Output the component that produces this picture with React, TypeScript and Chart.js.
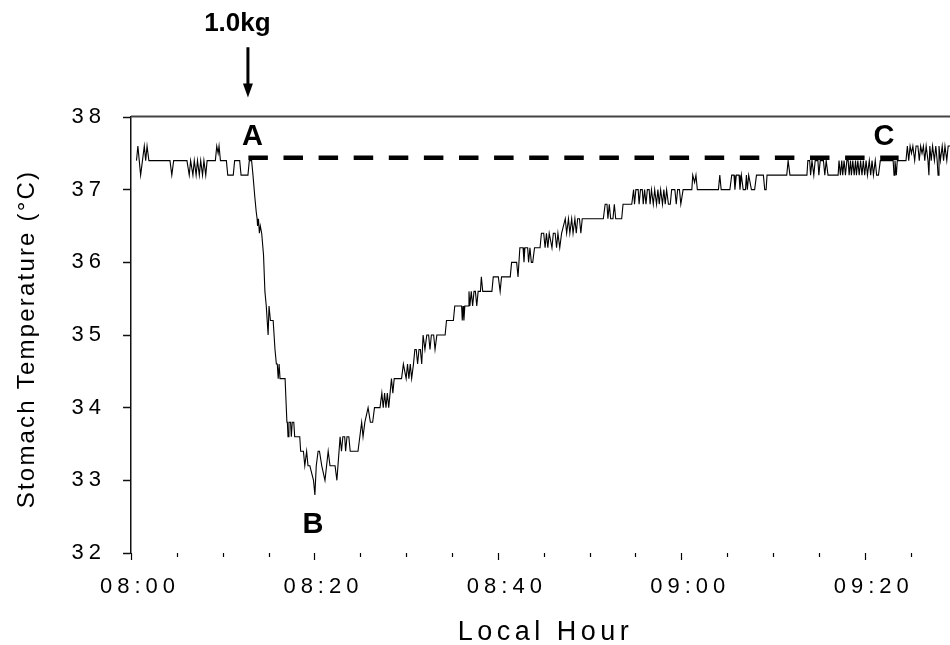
import React, { useEffect, useRef } from "react";
import { Chart, registerables } from "chart.js";

Chart.register(...registerables);

// Time in minutes after 08:00 and stomach temperature (°C)
const minutes = [
  0.6, 0.75, 0.9, 1.05, 1.25, 1.45, 1.6, 1.75, 1.95, 4.25, 4.45, 4.65, 6.1, 6.35, 6.5, 6.75, 6.9, 7.1, 7.25, 7.45,
  7.6, 7.8, 7.95, 8.15, 8.3, 9.2, 9.35, 9.5, 9.6, 9.75, 10.4, 10.55, 11.15, 11.3, 11.85, 12.0, 12.75, 12.9, 13.15,
  13.3, 13.5, 13.65, 13.75, 13.8, 13.9, 14.0, 14.1, 14.25, 14.45, 14.6, 14.75, 14.85, 14.95, 15.05, 15.2, 15.5,
  15.7, 15.85, 15.95, 16.05, 16.15, 16.25, 16.8, 17.0, 17.05, 17.12, 17.22, 17.4, 17.48, 17.58, 17.75, 17.85,
  18.0, 18.25, 18.4, 18.5, 18.8, 18.95, 19.15, 19.3, 19.5, 19.9, 20.05, 20.2, 20.4, 20.55, 20.8, 21.15, 21.5,
  21.7, 22.25, 22.45, 22.8, 22.95, 23.1, 23.3, 23.4, 23.55, 23.75, 23.9, 24.75, 24.95, 25.15, 25.3, 25.5, 25.85,
  26.1, 26.35, 26.55, 27.15, 27.35, 27.5, 27.65, 27.8, 27.95, 28.1, 28.25, 28.4, 28.55, 28.7, 29.35, 29.5, 29.7,
  30.0, 30.15, 30.3, 30.45, 30.6, 30.8, 30.95, 31.1, 31.25, 31.4, 31.55, 31.7, 31.85, 32.05, 32.25, 32.45, 32.6,
  32.75, 33.0, 33.15, 33.35, 34.25, 34.4, 35.15, 35.3, 36.05, 36.12, 36.2, 36.3, 36.4, 36.75, 36.85, 36.95, 37.1,
  37.25, 37.4, 37.55, 37.7, 37.85, 38.1, 38.2, 38.35, 39.35, 39.5, 40.05, 40.25, 40.4, 41.35, 41.5, 42.05, 42.2,
  42.4, 42.75, 42.85, 42.95, 43.25, 43.35, 43.5, 43.65, 43.8, 44.0, 44.6, 44.75, 45.0, 45.15, 45.3, 45.45, 45.6,
  45.9, 46.05, 46.25, 46.4, 46.55, 46.75, 46.95, 47.35, 47.5, 47.7, 47.85, 48.05, 48.2, 48.4, 48.55, 48.7, 48.9,
  49.05, 49.2, 51.5, 51.7, 51.9, 52.0, 52.15, 52.3, 52.55, 52.7, 52.85, 53.15, 53.5, 53.65, 54.6, 54.8, 54.9,
  55.05, 55.3, 55.4, 55.55, 55.75, 55.85, 56.0, 56.15, 56.3, 56.5, 56.6, 56.75, 56.95, 57.1, 57.3, 57.45, 57.6,
  57.75, 57.95, 58.1, 58.25, 58.4, 58.6, 58.8, 58.95, 59.3, 59.45, 59.6, 59.8, 59.95, 60.2, 61.15, 61.25, 61.45,
  61.6, 61.75, 64.05, 64.2, 64.35, 65.3, 65.5, 65.75, 65.85, 66.0, 66.3, 66.4, 66.55, 66.75, 67.0, 67.1, 67.2,
  67.35, 67.65, 68.0, 68.2, 68.95, 69.1, 69.25, 69.35, 71.5, 71.65, 71.85, 73.7, 73.8, 74.0, 74.1, 74.25, 74.45,
  74.6, 74.9, 75.0, 75.15, 75.5, 75.65, 75.8, 76.0, 77.1, 77.2, 77.35, 77.5, 77.6, 77.75, 77.9, 78.05, 78.2, 78.3,
  78.45, 78.55, 78.7, 78.85, 79.0, 79.1, 79.25, 79.4, 79.55, 79.7, 79.85, 80.0, 80.15, 80.3, 80.5, 80.65, 80.8,
  80.95, 81.15, 81.3, 81.5, 81.7, 83.1, 83.2, 83.3, 83.45, 83.55, 84.5, 84.65, 84.8, 84.95, 85.1, 85.25, 85.45,
  85.6, 85.8, 85.95, 86.1, 86.25, 86.4, 86.55, 86.7, 86.9, 87.0, 87.1, 87.25, 87.4, 87.6, 87.75, 87.9, 88.0, 88.1,
  88.25, 88.45, 88.6, 88.75, 88.95, 89.1, 89.3,
];
const temps = [
  37.4, 37.6, 37.4, 37.2, 37.4, 37.6, 37.4, 37.6, 37.4, 37.4, 37.2, 37.4, 37.4, 37.2, 37.4, 37.2, 37.4, 37.2, 37.4, 37.2,
  37.4, 37.2, 37.4, 37.2, 37.4, 37.4, 37.6, 37.5, 37.6, 37.4, 37.4, 37.2, 37.2, 37.4, 37.4, 37.2, 37.2, 37.4, 37.4,
  37.2, 36.9, 36.7, 36.6, 36.5, 36.6, 36.4, 36.5, 36.4, 36.1, 35.6, 35.4, 35.2, 35.0, 35.4, 35.2, 35.2,
  34.8, 34.6, 34.6, 34.4, 34.6, 34.4, 34.4, 33.8, 33.8, 33.6, 33.8, 33.8, 33.6, 33.8, 33.8, 33.6,
  33.6, 33.6, 33.6, 33.4, 33.4, 33.2, 33.4, 33.2, 33.2, 33.0, 32.8, 33.2, 33.4, 33.4, 33.2, 33.0, 33.4,
  33.2, 33.2, 33.0, 33.6, 33.4, 33.6, 33.6, 33.4, 33.6, 33.6, 33.4, 33.4, 33.6, 33.8, 33.6, 33.8, 34.0,
  33.8, 33.8, 34.0, 34.0, 34.2, 34.0, 34.2, 34.0, 34.2, 34.0, 34.2, 34.4, 34.2, 34.4, 34.4, 34.4, 34.6,
  34.4, 34.6, 34.4, 34.6, 34.4, 34.6, 34.8, 34.8, 34.6, 34.8, 34.8, 34.6, 35.0, 34.8, 35.0, 35.0, 34.8,
  35.0, 35.0, 34.8, 35.0, 35.0, 35.2, 35.2, 35.4, 35.4, 35.2, 35.4, 35.2, 35.4, 35.4, 35.6, 35.4, 35.6,
  35.4, 35.6, 35.6, 35.4, 35.6, 35.6, 35.8, 35.6, 35.6, 35.8, 35.8, 35.6, 35.8, 35.8, 36.0, 36.0, 35.8,
  36.2, 36.2, 36.0, 36.2, 36.2, 36.0, 36.2, 36.0, 36.0, 36.2, 36.2, 36.4, 36.4, 36.2, 36.4, 36.2, 36.4,
  36.2, 36.4, 36.4, 36.2, 36.4, 36.2, 36.4, 36.6, 36.4, 36.6, 36.4, 36.6, 36.4, 36.6, 36.4, 36.6, 36.6,
  36.4, 36.6, 36.6, 36.8, 36.8, 36.6, 36.8, 36.6, 36.6, 36.8, 36.6, 36.6, 36.6, 36.8, 36.8, 37.0, 36.8,
  37.0, 37.0, 36.8, 37.0, 37.0, 36.8, 37.0, 36.8, 37.0, 37.0, 36.8, 37.0, 36.8, 37.0, 36.8, 37.0, 36.8,
  37.0, 36.8, 37.0, 36.8, 37.0, 36.8, 36.8, 37.0, 37.0, 36.8, 37.0, 37.0, 36.8, 37.0, 37.0, 37.2, 37.1,
  37.2, 37.0, 37.0, 37.2, 37.0, 37.0, 37.2, 37.2, 37.0, 37.2, 37.2, 37.0, 37.2, 37.0, 37.0, 37.2, 37.0,
  37.2, 37.0, 37.0, 37.2, 37.2, 37.0, 37.0, 37.2, 37.2, 37.4, 37.2, 37.2, 37.4, 37.4, 37.2, 37.4, 37.2,
  37.4, 37.4, 37.2, 37.4, 37.4, 37.2, 37.4, 37.2, 37.2, 37.4, 37.2, 37.4, 37.2, 37.4, 37.2, 37.4, 37.4, 37.2,
  37.4, 37.2, 37.4, 37.2, 37.4, 37.2, 37.4, 37.2, 37.4, 37.2, 37.4, 37.2, 37.4, 37.2, 37.4, 37.2, 37.4,
  37.2, 37.4, 37.2, 37.2, 37.4, 37.4, 37.2, 37.4, 37.2, 37.4, 37.4, 37.6, 37.4, 37.6, 37.5, 37.6, 37.4,
  37.6, 37.6, 37.4, 37.6, 37.5, 37.6, 37.4, 37.6, 37.4, 37.2, 37.6, 37.4, 37.6, 37.4, 37.6, 37.4, 37.2, 37.6,
  37.4, 37.6, 37.4, 37.6, 37.4, 37.6, 37.6,
];

// Dashed baseline from A to C
const refMinutes = [12.8, 83.7];
const refTemps = [37.44, 37.44];

// Axis ticks
const xTickMinutes = [0, 20, 40, 60, 80];
const xTickLabels = ["08:00", "08:20", "08:40", "09:00", "09:20"];
const xMinorStep = 5;
const xMax = 89.3;
const yMin = 32;
const yMax = 38;

// Annotations (minute, temperature at text baseline)
const pointLabels = ["A", "B", "C"];
const pointLabelMinutes = [13.25, 19.85, 82.1];
const pointLabelTemps = [37.62, 32.27, 37.61];
const doseLabel = "1.0kg";
const doseMinute = 11.6;
const doseTemp = 39.18;
const arrowMinute = 12.75;
const arrowTopTemp = 38.96;
const arrowTipTemp = 38.27;

const xTitle = "Local Hour";
const yTitle = "Stomach Temperature (°C)";

const FONT = "'Liberation Sans', Arial, Helvetica, sans-serif";

const overlayPlugin = {
  id: "overlay",
  beforeDraw(chart: any) {
    (chart.ctx as any).letterSpacing = "5px";
  },
  afterDraw(chart: any) {
    const ctx = chart.ctx as any;
    const xs = chart.scales.x;
    const ys = chart.scales.y;
    const area = chart.chartArea;
    ctx.save();
    // top border
    ctx.strokeStyle = "#444";
    ctx.lineWidth = 2;
    ctx.beginPath();
    ctx.moveTo(area.left, area.top - 0.5);
    ctx.lineTo(area.right, area.top - 0.5);
    ctx.stroke();
    // x tick marks
    ctx.strokeStyle = "#000";
    ctx.lineWidth = 1.2;
    for (let m = 0; m <= xMax; m += xMinorStep) {
      const px = Math.round(xs.getPixelForValue(m)) + 0.5;
      const major = xTickMinutes.includes(m);
      ctx.beginPath();
      ctx.moveTo(px, area.bottom);
      ctx.lineTo(px, area.bottom + (major ? 7 : 4));
      ctx.stroke();
    }
    ctx.fillStyle = "#000";
    // point labels
    ctx.letterSpacing = "0px";
    ctx.font = `bold 29px ${FONT}`;
    ctx.textAlign = "center";
    ctx.textBaseline = "alphabetic";
    pointLabels.forEach((l, i) => {
      ctx.fillText(l, xs.getPixelForValue(pointLabelMinutes[i]), ys.getPixelForValue(pointLabelTemps[i]));
    });
    // dose label and arrow
    ctx.font = `bold 26px ${FONT}`;
    ctx.fillText(doseLabel, xs.getPixelForValue(doseMinute), ys.getPixelForValue(doseTemp));
    const ax = xs.getPixelForValue(arrowMinute);
    const aTop = ys.getPixelForValue(arrowTopTemp);
    const aTip = ys.getPixelForValue(arrowTipTemp);
    ctx.lineWidth = 3;
    ctx.beginPath();
    ctx.moveTo(ax, aTop);
    ctx.lineTo(ax, aTip - 10);
    ctx.stroke();
    ctx.beginPath();
    ctx.moveTo(ax - 5, aTip - 14);
    ctx.lineTo(ax + 5, aTip - 14);
    ctx.lineTo(ax, aTip);
    ctx.closePath();
    ctx.fill();
    // axis titles
    ctx.font = `27px ${FONT}`;
    ctx.letterSpacing = "4.5px";
    ctx.textAlign = "center";
    ctx.fillText(xTitle, (area.left + area.right) / 2 + 5, area.bottom + 87);
    ctx.font = `24px ${FONT}`;
    ctx.letterSpacing = "2.2px";
    ctx.translate(area.left - 97, (area.top + area.bottom) / 2 + 4);
    ctx.rotate(-Math.PI / 2);
    ctx.fillText(yTitle, 0, 0);
    ctx.restore();
    ctx.letterSpacing = "0px";
  },
};

export default function App() {
  const ref = useRef<HTMLCanvasElement>(null);
  useEffect(() => {
    if (!ref.current) return;
    const chart = new Chart(ref.current, {
      type: "line",
      data: {
        datasets: [
          {
            data: minutes.map((m, i) => ({ x: m, y: temps[i] })),
            borderColor: "#000",
            borderWidth: 1.1,
            pointRadius: 0,
            tension: 0,
            fill: false,
          },
          {
            data: refMinutes.map((m, i) => ({ x: m, y: refTemps[i] })),
            borderColor: "#000",
            borderWidth: 4.5,
            borderDash: [19.5, 15.6],
            borderCapStyle: "butt",
            pointRadius: 0,
            fill: false,
          },
        ],
      },
      options: {
        animation: false,
        responsive: false,
        devicePixelRatio: 1,
        layout: { padding: { top: 117, left: 0, right: 0, bottom: 0 } },
        plugins: { legend: { display: false }, tooltip: { enabled: false }, title: { display: false } },
        scales: {
          x: {
            type: "linear",
            min: 0,
            max: xMax,
            afterBuildTicks: (s: any) => {
              const t = [];
              for (let m = 0; m <= xMax; m += xMinorStep) t.push({ value: m });
              s.ticks = t;
            },
            afterFit: (s: any) => {
              s.height = 92;
            },
            border: { display: false },
            grid: { display: false, drawTicks: false },
            ticks: {
              autoSkip: false,
              maxRotation: 0,
              padding: 21,
              labelOffset: 9,
              color: "#000",
              font: { family: FONT, size: 22 },
              callback: (v: any) => {
                const i = xTickMinutes.indexOf(Number(v));
                return i >= 0 ? xTickLabels[i] : "";
              },
            },
          },
          y: {
            min: yMin,
            max: yMax,
            afterFit: (s: any) => {
              s.width = 131;
            },
            border: { display: true, color: "#111", width: 1.5 },
            grid: { drawOnChartArea: false, drawTicks: true, tickLength: 8, color: "#111", tickWidth: 1.5 },
            ticks: {
              stepSize: 1,
              padding: 17,
              color: "#000",
              font: { family: FONT, size: 22 },
            },
          },
        },
      },
      plugins: [overlayPlugin],
    } as any);
    return () => chart.destroy();
  }, []);
  return (
    <div style={{ position: "absolute", left: 0, top: 0, width: 950, height: 645, background: "#fff" }}>
      <canvas ref={ref} width={950} height={645} style={{ display: "block" }} />
    </div>
  );
}
